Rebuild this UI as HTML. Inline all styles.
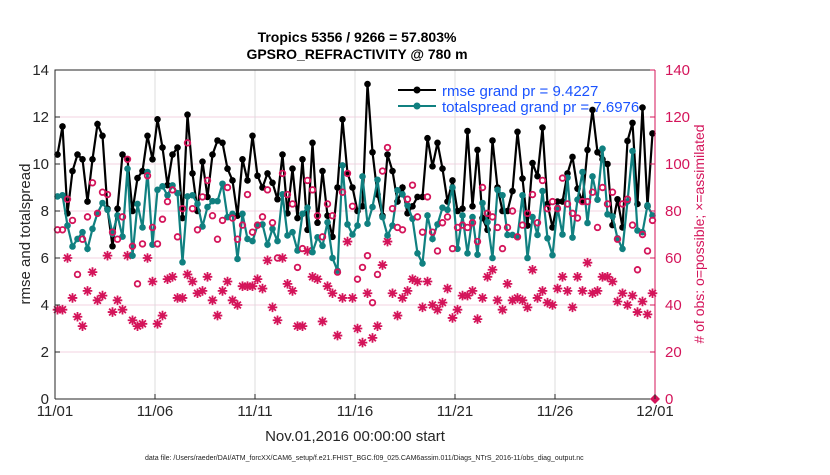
<!DOCTYPE html>
<html><head><meta charset="utf-8"><style>
body{margin:0;background:#fff;}
svg text{font-family:"Liberation Sans",Arial,sans-serif;}
</style></head><body>
<svg id="chart" width="830" height="470" viewBox="0 0 830 470" xmlns="http://www.w3.org/2000/svg">
<rect width="830" height="470" fill="#fff"/>
<g id="grid"></g>
<g id="series"></g>
<g id="axes"></g>
<text x="357" y="42" text-anchor="middle" font-size="14" font-weight="bold">Tropics 5356 / 9266 = 57.803%</text>
<text x="357" y="59" text-anchor="middle" font-size="14" font-weight="bold">GPSRO_REFRACTIVITY @ 780 m</text>
<text x="355" y="441" text-anchor="middle" font-size="15" fill="#262626">Nov.01,2016 00:00:00 start</text>
<text transform="translate(30,234) rotate(-90)" text-anchor="middle" font-size="15" fill="#262626">rmse and totalspread</text>
<text transform="translate(704,234) rotate(-90)" text-anchor="middle" font-size="14" fill="#d4145a"># of obs: o=possible; ×=assimilated</text>
<text x="145" y="460" font-size="7" fill="#222">data file: /Users/raeder/DAI/ATM_forcXX/CAM6_setup/f.e21.FHIST_BGC.f09_025.CAM6assim.011/Diags_NTrS_2016-11/obs_diag_output.nc</text>
<g>
<line x1="398" y1="90" x2="436" y2="90" stroke="#000" stroke-width="2"/>
<circle cx="417" cy="90" r="3.5" fill="#000"/>
<text x="442" y="96" font-size="15" fill="#1a53ff">rmse grand pr = 9.4227</text>
<line x1="398" y1="106" x2="436" y2="106" stroke="#108080" stroke-width="2"/>
<circle cx="417" cy="106" r="3.5" fill="#108080"/>
<text x="442" y="112" font-size="15" fill="#1a53ff">totalspread grand pr = 7.6976</text>
</g>
</svg>
<script>
const rmse=[10.4,11.6,7.9,9.7,10.4,10.2,8.4,10.2,11.7,11.2,8.1,6.5,8.1,10.4,10.2,8.0,9.4,9.7,11.2,10.2,11.9,10.7,9.1,10.4,10.7,7.7,12.1,9.6,8.0,10.1,
8.6,10.4,11.0,10.9,9.8,9.3,7.8,10.2,9.3,11.2,9.5,9.0,9.6,9.2,8.5,10.4,7.9,9.8,7.7,10.2,7.2,10.9,7.5,9.7,7.8,6.9,9.0,11.9,9.6,9.0,8.0,
8.2,13.4,10.5,8.7,7.8,10.4,9.7,8.4,9.0,7.9,8.2,8.6,8.6,11.1,9.9,10.9,9.8,8.4,9.3,8.0,8.1,11.4,8.2,10.6,7.7,7.2,11.0,9.0,8.0,
8.0,8.85,11.37,9.38,7.38,10.04,9.48,11.55,8.3,7.3,8.4,8.4,9.6,10.3,8.95,8.4,10.6,12.3,10.5,10.2,10.0,7.4,8.5,7.3,10.98,11.75,8.3,12.4,8.2,11.3];
const spread=[8.62,8.67,7.38,6.49,6.81,7.1,6.39,7.24,7.91,8.34,8.05,7.03,7.81,6.91,9.8,6.1,8.3,7.3,9.66,6.57,8.9,9.05,8.67,9.09,8.76,5.82,8.62,8.67,8.3,7.34,8.17,
8.42,8.42,9.16,7.74,7.88,5.96,7.88,6.81,6.72,7.38,7.43,6.57,7.24,6.72,8.71,6.96,7.1,6.32,7.88,8.14,6.25,6.88,6.52,7.52,6.0,5.46,9.94,7.43,7.0,7.38,
9.47,7.46,8.17,9.33,7.74,6.96,7.38,8.88,8.71,8.24,7.67,6.2,5.77,7.81,6.81,7.43,8.14,8.05,9.0,6.39,7.81,6.2,7.74,6.14,8.34,7.53,6.0,8.9,8.67,
6.98,6.98,6.9,8.67,6.0,7.74,6.98,8.85,6.84,6.12,8.14,7.0,9.42,6.87,8.48,9.66,7.49,9.47,8.48,10.65,7.86,7.77,6.84,6.39,8.41,10.55,7.17,7.1,8.24,7.81];
const possible=[72,72,85,76,53,68,77.5,92,79,88,87,71,68,77.5,102,65,49,66,95,73,66,76.5,84,89,69,81,109,81,72,86,93,
78,68,76,90,77,68,74,87,71,74,77.5,89,75,60,96,87,83,56,64,93,89,78,69,83,78,54,88,96,82,51,
56,61,41,53,97,107,81,73,72,85,91,77.5,71,86,71,63,75,77.5,64,73,74,73,75,67,90,79,77.5,73,64,
73,80,69,74,79,87,75,93,81,84,81,94,83,79,77,84,84,88,73,90,83,88,68,83,85,74,55,70,63,76];
const assimilated=[38,38,60,43,35,31,46,54,42,44,61,37,42,38,61,33.5,31,32,60,50,32,35.5,51,52,43,43,53,50,45,46,52,
42,35.5,46,50,42,40,48,48,48,51,47,59,39,33.5,60,49,46,31,31,63,52,51,33,48,45,27,43,67,43,30,
24,45,26,31,57,67,45,35.5,43,46,51,50,39,50,40,38,41,47,34.5,38,44,44,46,34,43,52,55,42,38,
49,42,43,42,39,55,43,46,41,40,47,52,46,39,52,46,58,45,46,52,52,50,41.5,45,40,44,37,41.5,36,45];
const xTickLabels=["11/01","11/06","11/11","11/16","11/21","11/26","12/01"];
const xTickDays=[0,5,10,15,20,25,30];
const leftTicks=[0,2,4,6,8,10,12,14];
const rightTicks=[0,20,40,60,80,100,120,140];

const L=55,R=655,T=70,B=399,NS="http://www.w3.org/2000/svg";
const xDay=d=>L+(R-L)*d/30;
const xIdx=i=>xDay(i*0.25+0.125);
const yL=v=>B-(B-T)*v/14;
const yR=v=>B-(B-T)*v/140;
function mk(tag,attrs,parent){const e=document.createElementNS(NS,tag);for(const k in attrs)e.setAttribute(k,attrs[k]);parent.appendChild(e);return e;}
const grid=document.getElementById('grid'),ser=document.getElementById('series'),ax=document.getElementById('axes');
rightTicks.forEach(t=>{if(t>0&&t<140){const l=mk('line',{x1:L,x2:R,y1:yR(t),y2:yR(t),stroke:'#f3d3e0','stroke-width':1},grid);

}});
xTickDays.forEach(d=>{if(d>0&&d<30){const l=mk('line',{x1:xDay(d),x2:xDay(d),y1:T,y2:B,stroke:'#dcdcdc','stroke-width':1},grid);

}});
assimilated.forEach((v,i)=>{const x=xIdx(i),y=yR(v),s=4.8,d=3.4;
const g=mk('path',{d:`M${x-s},${y}H${x+s}M${x},${y-s}V${y+s}M${x-d},${y-d}L${x+d},${y+d}M${x-d},${y+d}L${x+d},${y-d}`,stroke:'#d4145a','stroke-width':1.8},ser);

});
const p1=mk('polyline',{points:rmse.map((v,i)=>xIdx(i)+','+yL(v)).join(' '),fill:'none',stroke:'#000','stroke-width':2.2},ser);


rmse.forEach((v,i)=>{const c=mk('circle',{cx:xIdx(i),cy:yL(v),r:3.3,fill:'#000'},ser);

});
const p2=mk('polyline',{points:spread.map((v,i)=>xIdx(i)+','+yL(v)).join(' '),fill:'none',stroke:'#108080','stroke-width':2.2},ser);


spread.forEach((v,i)=>{const c=mk('circle',{cx:xIdx(i),cy:yL(v),r:3.3,fill:'#108080'},ser);

});
possible.forEach((v,i)=>{const c=mk('circle',{cx:xIdx(i),cy:yR(v),r:2.8,fill:'none',stroke:'#d4145a','stroke-width':1.8},ser);

});
const dm=mk('path',{d:`M${R},${B-5}L${R+5},${B}L${R},${B+5}L${R-5},${B}Z`,fill:'#d4145a'},ser);


const ab=mk('path',{d:`M${L},${B}V${T}H${R}`,fill:'none',stroke:'#262626','stroke-width':1},ax);


const bb=mk('line',{x1:L,x2:R,y1:B,y2:B,stroke:'#262626','stroke-width':1},ax);


const rb=mk('line',{x1:R,x2:R,y1:T,y2:B,stroke:'#d4145a','stroke-width':1},ax);


leftTicks.forEach(t=>{mk('line',{x1:L,x2:L+5,y1:yL(t),y2:yL(t),stroke:'#262626'},ax);
const tx=mk('text',{x:L-6,y:yL(t)+5,'text-anchor':'end','font-size':15,fill:'#262626'},ax);tx.textContent=t;

});
rightTicks.forEach(t=>{mk('line',{x1:R-5,x2:R,y1:yR(t),y2:yR(t),stroke:'#d4145a'},ax);
const tx=mk('text',{x:R+10,y:yR(t)+5,'font-size':15,fill:'#d4145a'},ax);tx.textContent=t;

});
xTickDays.forEach((d,k)=>{mk('line',{x1:xDay(d),x2:xDay(d),y1:B,y2:B-5,stroke:'#262626'},ax);
const tx=mk('text',{x:xDay(d),y:B+17,'text-anchor':'middle','font-size':15,fill:'#262626'},ax);tx.textContent=xTickLabels[k];

});
</script>
</body></html>
